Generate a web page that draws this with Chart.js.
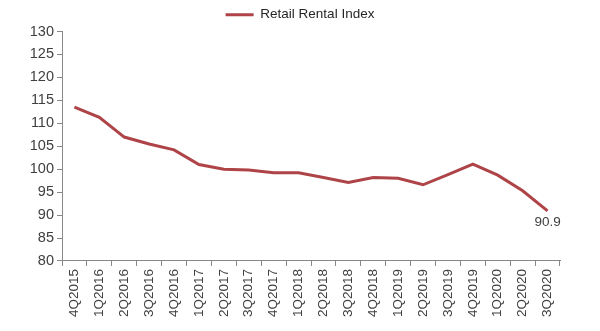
<!DOCTYPE html>
<html><head><meta charset="utf-8">
<script src="https://cdn.jsdelivr.net/npm/chart.js@4/dist/chart.umd.min.js"></script>
<style>html,body{margin:0;padding:0;background:#fff}#wrap{width:600px;height:331px}</style>
</head><body><div id="wrap"><canvas id="c"></canvas></div>
<script>
const categories = ["4Q2015","1Q2016","2Q2016","3Q2016","4Q2016","1Q2017","2Q2017","3Q2017","4Q2017","1Q2018","2Q2018","3Q2018","4Q2018","1Q2019","2Q2019","3Q2019","4Q2019","1Q2020","2Q2020","3Q2020"];
const retailRentalIndex = [113.5,111.3,107.0,105.5,104.2,101.0,100.0,99.8,99.2,99.2,98.2,97.1,98.2,98.0,96.6,98.8,101.1,98.7,95.3,90.9];
const yTicks = {min:80, max:130, step:5};
const seriesName = "Retail Rental Index";
const lastLabel = "90.9";

Chart.defaults.font.family = "'Liberation Sans', Arial, sans-serif";
Chart.defaults.color = "#404040";

const endLabel = {
  id:'endLabel',
  afterDatasetsDraw(chart){
    const meta = chart.getDatasetMeta(0);
    const p = meta.data[meta.data.length-1];
    const ctx = chart.ctx;
    ctx.save();
    ctx.font = "13.5px 'Liberation Sans', Arial, sans-serif";
    ctx.fillStyle = "#404040";
    ctx.textAlign = 'center';
    ctx.textBaseline = 'top';
    ctx.fillText(lastLabel, p.x, p.y + 5);
    ctx.restore();
  }
};

new Chart(document.getElementById('c'), {
  type:'line',
  data:{labels:categories, datasets:[{label:seriesName, data:retailRentalIndex, borderColor:'#AE4447', backgroundColor:'#AE4447', borderWidth:3, pointRadius:0, tension:0, fill:false, yAxisID:'y'}]},
  options:{
    responsive:true, maintainAspectRatio:false, animation:false,
    layout:{padding:{left:8,right:8,top:0,bottom:11}},
    plugins:{
      tooltip:{enabled:false},
      legend:{display:true, position:'top', align:'center',
        labels:{usePointStyle:true, pointStyle:'line', pointStyleWidth:28, font:{size:13.5}, color:'#262626', padding:8, boxHeight:3}}
    },
    scales:{
      x:{offset:true,
        grid:{offset:true, drawOnChartArea:false, drawTicks:true, tickLength:5, color:'#888'},
        border:{display:true, color:'#888', width:1},
        ticks:{minRotation:90, maxRotation:90, autoSkip:false, font:{size:13.5}, color:'#404040', padding:3}
      },
      y:{min:yTicks.min, max:yTicks.max,
        grid:{drawOnChartArea:false, drawTicks:true, tickLength:5, color:'#888'},
        border:{display:true, color:'#888', width:1},
        ticks:{stepSize:yTicks.step, font:{size:14.5}, color:'#404040', padding:3},
        afterFit(s){ s.width = 54; }
      },
      yr:{position:'right', display:true,
        grid:{display:false, drawTicks:false}, border:{display:false}, ticks:{display:false},
        afterFit(s){ s.width = 32; }
      }
    }
  },
  plugins:[endLabel]
});
</script></body></html>
